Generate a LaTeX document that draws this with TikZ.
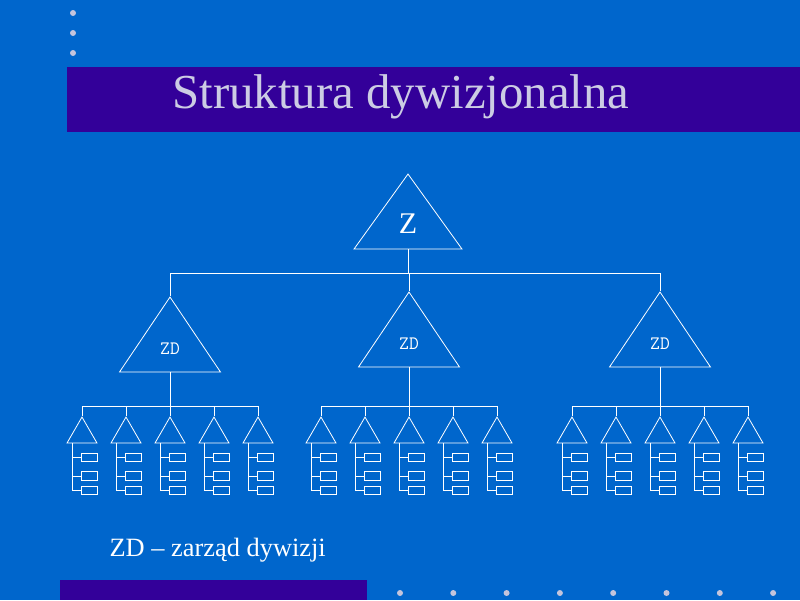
\documentclass[tikz,border=0pt]{standalone}
\usepackage{fontspec}
\setmainfont{Liberation Serif}
\usetikzlibrary{shapes.geometric}

\definecolor{slide}{HTML}{0066CC}
\definecolor{band}{HTML}{330099}
\definecolor{bullet}{HTML}{C4C4DC}
\definecolor{heading}{HTML}{CCCCE4}

\tikzset{
  every triangle/.style={draw=white, line width=0.8pt, isosceles triangle,
    isosceles triangle stretches, shape border rotate=90, inner sep=0pt, text=white},
  top triangle/.style={minimum width=108pt, minimum height=75pt,
    font=\fontsize{30}{30}\selectfont},
  division triangle/.style={minimum width=101pt, minimum height=75pt,
    font=\ttfamily\fontsize{19}{19}\selectfont},
  unit triangle/.style={minimum width=30pt, minimum height=26pt},
  cell/.style={draw=white, line width=0.8pt, rectangle, inner sep=0pt,
    minimum width=16pt, minimum height=8.5pt, anchor=west},
  link/.style={draw=white, line width=0.8pt}
}

\begin{document}
\begin{tikzpicture}[x=1pt, y=-1pt]

\fill [slide] (0,0) rectangle (800,600);
\useasboundingbox (0,0) rectangle (800,600);
\fill [band] (67,67) rectangle (800,132);
\fill [band] (60,580) rectangle (367,600);

\foreach \y in {13,33,53}
  \fill [bullet] (73,\y) circle (3);

\foreach \i in {0,...,7}
  \fill [bullet] (400+53.3*\i,593) circle (3);

\node [anchor=base, text=heading, font=\fontsize{48.8}{48.8}\selectfont] (title)
  at (401,108) {Struktura dywizjonalna};

\node [every triangle, top triangle, anchor=apex] (zarzad) at (408,173) {Z};

\foreach \x/\y [count=\d] in {170/296,409/291,660/291}
  \node [every triangle, division triangle, anchor=apex] (zd-\d) at (\x,\y) {ZD};

\foreach \x [count=\d] in {170,409,660}
  \foreach \dx [count=\u] in {-88,-44,0,44,88} {
    \node [every triangle, unit triangle, anchor=apex] (unit-\d-\u) at (\x+\dx,416) {};
    \foreach \y [count=\c] in {457.5,476,490.5}
      \node [cell] (cell-\d-\u-\c) at (\x+\dx-1,\y) {};
  }

\coordinate (bus) at (408,273.5);
\draw [link] (zarzad.lower side) -- (bus);
\foreach \d in {1,2,3}
  \draw [link] (zd-\d.apex) |- (bus);

\foreach \x [count=\d] in {170,409,660} {
  \coordinate (dbus-\d) at (\x,406);
  \draw [link] (zd-\d.lower side) -- (dbus-\d);
  \foreach \u in {1,...,5} {
    \draw [link] (unit-\d-\u.apex) |- (dbus-\d);
    \draw [link] ([xshift=-10pt]unit-\d-\u.lower side) |- (cell-\d-\u-3.west);
    \draw [link] (cell-\d-\u-1.west) -- ++(-9,0);
    \draw [link] (cell-\d-\u-2.west) -- ++(-9,0);
  }
}

\node [anchor=base west, text=white, font=\fontsize{26.4}{26.4}\selectfont] (legend)
  at (106,556) {ZD – zarząd dywizji};

\end{tikzpicture}
\end{document}
